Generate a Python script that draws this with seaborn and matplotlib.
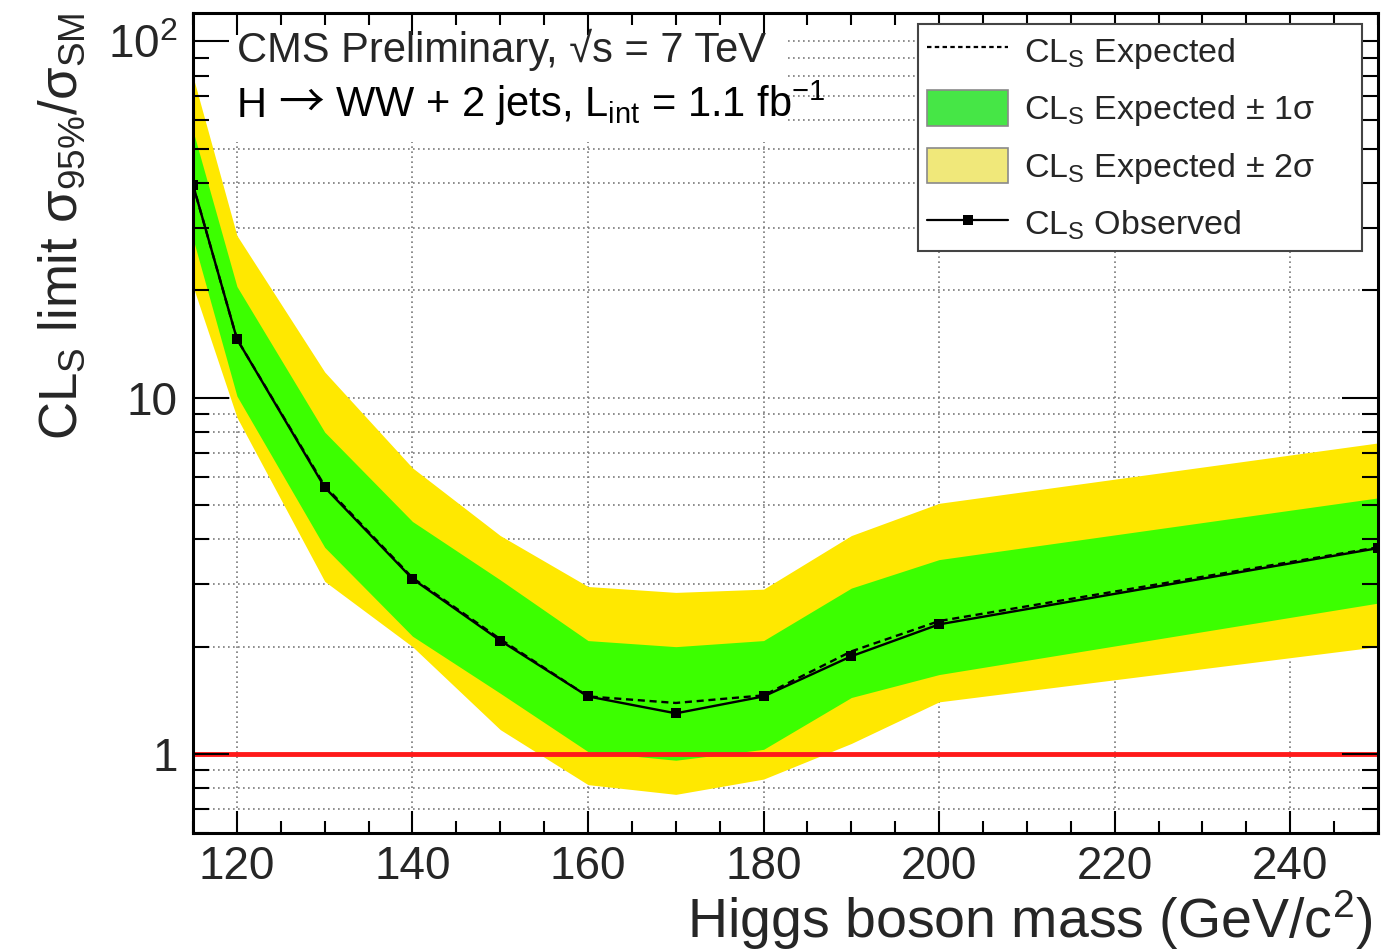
import matplotlib
matplotlib.use("Agg")
import matplotlib.pyplot as plt
import pandas as pd
import seaborn as sns
from matplotlib.lines import Line2D
from matplotlib.offsetbox import AnchoredOffsetbox, HPacker, TextArea
from matplotlib.patches import Patch, Rectangle
from matplotlib.ticker import FixedLocator, LogLocator, MultipleLocator, NullFormatter

# Higgs mass points (GeV/c^2)
MASS = [115, 120, 130, 140, 150, 160, 170, 180, 190, 200, 250]

# 95% CL limit on sigma/sigma_SM
OBSERVED = [39.5, 14.6, 5.6, 3.1, 2.08, 1.45, 1.30, 1.45, 1.88, 2.31, 3.78]
EXPECTED = [39.5, 14.6, 5.65, 3.12, 2.10, 1.45, 1.39, 1.46, 1.94, 2.36, 3.80]
MINUS_2SIG = [20.5, 8.8, 3.05, 2.00, 1.17, 0.82, 0.77, 0.85, 1.07, 1.40, 2.00]
MINUS_1SIG = [27.9, 10.1, 3.80, 2.14, 1.48, 1.015, 0.96, 1.03, 1.44, 1.67, 2.65]
PLUS_1SIG = [56.0, 20.5, 8.0, 4.49, 3.08, 2.08, 2.00, 2.08, 2.92, 3.51, 5.23]
PLUS_2SIG = [79.5, 28.5, 11.8, 6.35, 4.10, 2.95, 2.84, 2.90, 4.10, 5.05, 7.46]

X_TICKS = [120, 140, 160, 180, 200, 220, 240]
Y_TICKS = [1, 10, 100]
Y_TICK_LABELS = ["1", "10", r"$\mathregular{10^{2}}$"]

LEGEND_LABELS = [
    r"CL$_\mathregular{S}$ Expected",
    r"CL$_\mathregular{S}$ Expected ± 1σ",
    r"CL$_\mathregular{S}$ Expected ± 2σ",
    r"CL$_\mathregular{S}$ Observed",
]

GREEN = "#3cff00"
YELLOW = "#ffe800"

df = pd.DataFrame({
    "mass": MASS,
    "observed": OBSERVED,
    "expected": EXPECTED,
    "m2": MINUS_2SIG,
    "m1": MINUS_1SIG,
    "p1": PLUS_1SIG,
    "p2": PLUS_2SIG,
})

sns.set_theme(style="ticks")
plt.rcParams["font.family"] = ["Liberation Sans", "DejaVu Sans"]
plt.rcParams["mathtext.fontset"] = "custom"
plt.rcParams["mathtext.rm"] = "Liberation Sans"
plt.rcParams["mathtext.it"] = "Liberation Sans:italic"

fig = plt.figure(figsize=(13.81, 9.51), dpi=100)
ax = fig.add_axes([0.1398, 0.1241, 0.8580, 0.8622])

ax.set_yscale("log")
ax.set_xlim(115, 250)
ax.set_ylim(0.6, 120)

# bands
ax.fill_between(df["mass"], df["m2"], df["p2"], color=YELLOW, lw=0, zorder=1.2)
ax.fill_between(df["mass"], df["m1"], df["p1"], color=GREEN, lw=0, zorder=1.3)
ax.axhline(1, color="#ff1a1a", lw=3.5, zorder=1.9)

sns.lineplot(data=df, x="mass", y="expected", ax=ax, color="black", lw=1.7,
             linestyle=(0, (3, 2)), zorder=2.0)
sns.lineplot(data=df, x="mass", y="observed", ax=ax, color="black", lw=1.7,
             marker="s", markersize=7.5, markeredgewidth=0, zorder=2.1)

# ticks
ax.xaxis.set_major_locator(FixedLocator(X_TICKS))
ax.xaxis.set_minor_locator(MultipleLocator(5))
ax.yaxis.set_major_locator(FixedLocator(Y_TICKS))
ax.yaxis.set_minor_locator(LogLocator(base=10, subs=range(2, 10)))
ax.yaxis.set_minor_formatter(NullFormatter())
ax.set_yticklabels(Y_TICK_LABELS)
ax.tick_params(axis="both", which="both", direction="in", top=True, right=True,
               width=1.5, color="black", labelsize=33)
ax.tick_params(axis="x", which="major", length=16, pad=9)
ax.tick_params(axis="x", which="minor", length=8.5)
ax.tick_params(axis="y", which="major", length=26, pad=11)
ax.tick_params(axis="y", which="minor", length=11.5)
for s in ax.spines.values():
    s.set_linewidth(2.2)
    s.set_color("black")
ax.set_axisbelow(False)

# dotted grid, drawn under the bands
grid_kw = dict(color="#7a7a7a", lw=1.2, linestyle=(0, (1, 2)), zorder=1.0)
ylo, yhi = ax.get_ylim()
for xv in X_TICKS:
    ax.axvline(xv, **grid_kw)
for yv in list(ax.yaxis.get_majorticklocs()) + list(ax.yaxis.get_minorticklocs()):
    if ylo < yv < yhi:
        ax.axhline(yv, **grid_kw)

# white panel behind the header text
ax.add_patch(Rectangle((0, 0.843), 0.501, 0.157, transform=ax.transAxes,
                       facecolor="white", edgecolor="none", zorder=1.1))
ax.text(0.037, 0.940, "CMS Preliminary, √s = 7 TeV", transform=ax.transAxes,
        fontsize=30, va="baseline", ha="left", zorder=6)

# second header line: thin arrow from a CJK font, the rest in Liberation Sans
txt = dict(fontsize=30, color="black")
line2 = HPacker(children=[
    TextArea("H ", textprops=txt),
    TextArea("→", textprops=dict(fontsize=33, color="black",
                                 family=["Noto Sans CJK JP", "DejaVu Sans"])),
    TextArea(r" WW + 2 jets, L$_\mathregular{int}$ = 1.1 fb$^\mathregular{-1}$", textprops=txt),
], align="baseline", pad=0, sep=0)
box = AnchoredOffsetbox(loc="lower left", child=line2, pad=0, borderpad=0, frameon=False,
                        bbox_to_anchor=(0.037, 0.860), bbox_transform=ax.transAxes)
box.set_zorder(6)
ax.add_artist(box)

# axis titles
ax.set_xlabel(r"Higgs boson mass (GeV/c$^\mathregular{2}$)", fontsize=40, loc="right")
ax.xaxis.set_label_coords(0.995, -0.067)
ax.set_ylabel(r"CL$_\mathregular{S}$ limit σ$_\mathregular{95\%}$/σ$_\mathregular{SM}$",
              fontsize=38, loc="top")
ax.yaxis.set_label_coords(-0.089, 1.0)

# legend
handles = [
    Line2D([], [], color="black", lw=1.6, linestyle=(0, (2, 1.5))),
    Patch(facecolor="#46e646", edgecolor="#8a8a8a", lw=1.2),
    Patch(facecolor="#f0e87a", edgecolor="#8a8a8a", lw=1.2),
    Line2D([], [], color="black", lw=1.6, marker="s", markersize=7, markeredgewidth=0),
]
leg = ax.legend(handles, LEGEND_LABELS, loc="upper left", mode="expand",
                bbox_to_anchor=(0.612, 0.707, 0.3745, 0.2796),
                borderaxespad=0, fontsize=24.5, frameon=True, fancybox=False,
                handlelength=2.4, handleheight=1.23, handletextpad=0.45,
                labelspacing=0.57, borderpad=0.25)
leg.get_frame().set_edgecolor("#444444")
leg.get_frame().set_linewidth(1.5)
leg.get_frame().set_alpha(1)
leg.set_zorder(7)

fig.savefig("out.png", dpi=100)
